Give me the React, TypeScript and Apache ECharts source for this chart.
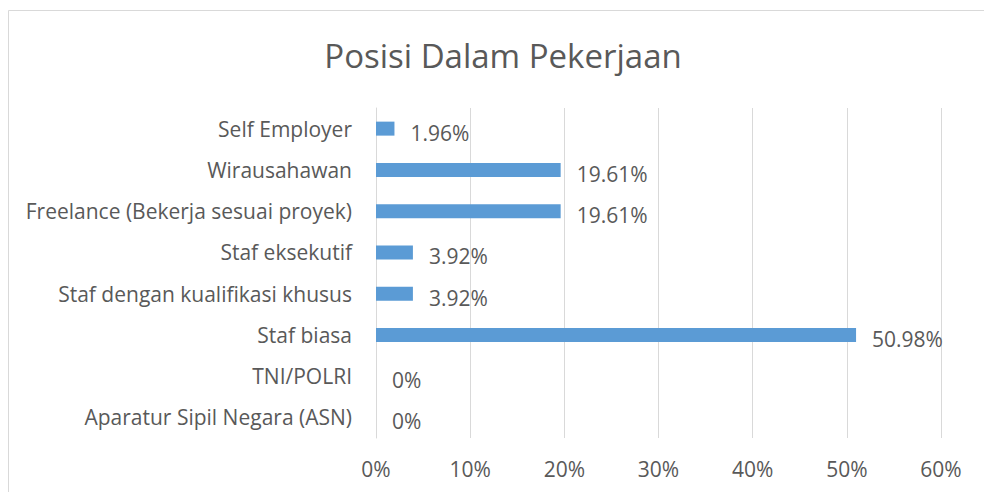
import React, { useEffect, useRef } from "react";
import * as echarts from "echarts";

const categories = [
  "Aparatur Sipil Negara (ASN)",
  "TNI/POLRI",
  "Staf biasa",
  "Staf dengan kualifikasi khusus",
  "Staf eksekutif",
  "Freelance (Bekerja sesuai proyek)",
  "Wirausahawan",
  "Self Employer",
];
const values = [0, 0, 50.98, 3.92, 3.92, 19.61, 19.61, 1.96];
const valueLabels = ["0%", "0%", "50.98%", "3.92%", "3.92%", "19.61%", "19.61%", "1.96%"];
const xTicks = [0, 10, 20, 30, 40, 50, 60];

const FONT = "'Open Sans', 'Liberation Sans', sans-serif";
const TXT = "#595959";

export default function App() {
  const ref = useRef<HTMLDivElement>(null);
  useEffect(() => {
    if (!ref.current) return;
    const chart = echarts.init(ref.current, null, { renderer: "svg" });
    chart.setOption({
      animation: false,
      backgroundColor: "#ffffff",
      title: {
        text: "Posisi Dalam Pekerjaan",
        left: 498,
        textAlign: "center",
        top: 34,
        textStyle: { fontFamily: FONT, fontSize: 33, fontWeight: "normal", color: TXT },
      },
      graphic: [
        {
          type: "rect",
          shape: { x: 8.5, y: 10.5, width: 1000, height: 500 },
          style: { fill: "none", stroke: "#d9d9d9", lineWidth: 1 },
          silent: true,
        },
      ],
      grid: { left: 376, right: 43, top: 108, bottom: 54, containLabel: false },
      xAxis: {
        type: "value",
        min: xTicks[0],
        max: xTicks[xTicks.length - 1],
        interval: 10,
        axisLine: { show: false },
        axisTick: { show: false },
        splitLine: { show: true, lineStyle: { color: "#d9d9d9", width: 1 } },
        axisLabel: {
          formatter: (v: number) => v + "%",
          fontFamily: FONT,
          fontSize: 21,
          color: TXT,
          margin: 20,
        },
      },
      yAxis: {
        type: "category",
        data: categories,
        axisLine: { show: true, lineStyle: { color: "#d9d9d9" } },
        axisTick: { show: false },
        axisLabel: { fontFamily: FONT, fontSize: 21, color: TXT, margin: 24 },
      },
      series: [
        {
          type: "bar",
          data: values,
          barWidth: 14,
          itemStyle: { color: "#5b9bd5" },
          label: {
            show: true,
            position: "right",
            distance: 16,
            offset: [0, 4],
            formatter: (p: any) => valueLabels[p.dataIndex],
            fontFamily: FONT,
            fontSize: 21,
            color: TXT,
          },
        },
      ],
    });
    return () => chart.dispose();
  }, []);
  return (
    <div
      ref={ref}
      style={{ position: "fixed", left: 0, top: 0, width: 984, height: 492 }}
    />
  );
}
